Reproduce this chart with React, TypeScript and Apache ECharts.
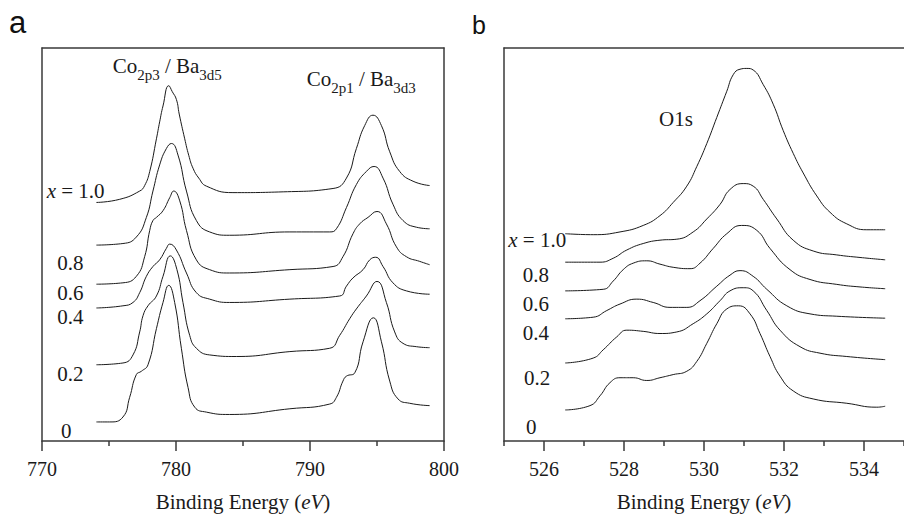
import React, { useEffect, useRef } from "react";
import * as echarts from "echarts";

// ---------- Panel a: Co2p / Ba3d region (x = binding energy eV, y = offset intensity a.u.) ----------
const a10: number[][] = [
  [774.06, 60.7], [775.8, 61.5], [777.29, 63.6], [777.66, 65.0], [778.04, 68.6], [778.54, 76.9],
  [778.78, 81.2], [779.03, 85.25], [779.46, 90.4], [779.72, 88.9], [780.03, 86.9], [780.24, 83.2],
  [780.65, 76.9], [780.95, 72.7], [781.27, 69.4], [781.7, 66.9], [782.27, 64.85], [784.25, 63.2],
  [788.0, 63.4], [791.72, 64.25], [792.72, 66.9], [793.46, 74.4], [794.08, 80.25], [794.7, 82.9],
  [795.33, 80.25], [795.95, 73.6], [796.69, 68.6], [797.69, 66.1], [798.93, 65.0],
];
const a08: number[][] = [
  [774.06, 49.85], [776.04, 50.25], [777.04, 51.9], [777.79, 56.9], [778.28, 63.6], [778.78, 70.25],
  [779.28, 74.4], [779.66, 75.7], [780.15, 72.75], [780.78, 63.6], [781.52, 56.1], [782.51, 53.2],
  [784.0, 52.35], [788.5, 53.2], [791.47, 53.2], [791.97, 54.0], [792.72, 59.4], [793.46, 65.25],
  [794.21, 68.6], [794.78, 69.85], [795.45, 66.9], [796.19, 60.25], [796.94, 56.1], [797.94, 54.4],
  [798.93, 54.0],
];
const a06: number[][] = [
  [774.06, 39.9], [776.04, 40.25], [777.04, 41.9], [777.66, 46.9], [778.04, 53.6], [778.28, 56.1],
  [778.54, 56.9], [779.03, 58.6], [779.53, 61.9], [779.83, 63.6], [780.28, 61.1], [780.78, 53.6],
  [781.52, 46.1], [782.51, 43.6], [784.0, 42.75], [788.5, 43.6], [791.72, 44.4], [792.46, 46.9],
  [793.21, 52.75], [793.71, 55.25], [794.33, 56.9], [795.0, 58.4], [795.7, 55.25], [796.45, 49.4],
  [797.19, 46.9], [798.19, 45.7], [798.93, 44.85],
];
const a04: number[][] = [
  [774.06, 33.85], [776.04, 34.4], [776.79, 35.25], [777.29, 37.75], [777.79, 41.9], [778.28, 44.4],
  [778.78, 46.1], [779.28, 49.0], [779.53, 50.1], [780.03, 48.6], [780.78, 42.75], [781.52, 37.75],
  [782.51, 36.1], [784.0, 35.25], [788.5, 36.1], [792.22, 36.9], [792.72, 39.4], [793.21, 41.5],
  [793.96, 43.6], [794.46, 46.1], [794.9, 46.75], [795.45, 44.4], [796.19, 40.25], [797.19, 38.2],
  [798.93, 37.35],
];
const a02: number[][] = [
  [774.06, 19.4], [776.04, 19.85], [776.79, 21.9], [777.29, 27.75], [777.54, 31.9], [777.91, 34.4],
  [778.54, 36.9], [779.03, 41.9], [779.58, 47.1], [780.07, 43.6], [780.52, 35.25], [781.02, 26.9],
  [781.52, 23.6], [782.51, 21.9], [784.5, 21.5], [788.5, 22.75], [791.47, 23.6], [792.22, 26.9],
  [792.96, 31.1], [793.46, 33.6], [794.21, 36.9], [795.0, 40.6], [795.7, 35.25], [796.32, 27.75],
  [796.94, 24.85], [797.94, 24.0], [798.93, 23.75],
];
const a00: number[][] = [
  [774.06, 4.85], [775.05, 4.85], [776.04, 6.1], [776.54, 11.1], [777.04, 16.9], [777.42, 17.75],
  [777.91, 19.4], [778.54, 28.6], [779.03, 35.25], [779.46, 39.6], [779.9, 35.25], [780.4, 23.6],
  [780.9, 13.6], [781.4, 8.6], [782.27, 7.35], [784.0, 6.75], [788.5, 8.2], [791.47, 9.4],
  [791.97, 11.1], [792.46, 15.25], [792.72, 16.5], [793.34, 17.35], [793.96, 25.25], [794.73, 31.35],
  [795.33, 25.25], [795.95, 15.25], [796.57, 10.7], [797.44, 9.6], [798.93, 9.0],
];

// ---------- Panel b: O1s region ----------
const b10: number[][] = [
  [526.53, 52.75], [527.23, 52.5], [527.9, 53.2], [528.48, 54.85], [528.9, 57.35], [529.23, 60.7],
  [529.57, 64.85], [529.82, 69.85], [530.07, 75.7], [530.32, 82.35], [530.57, 89.0], [530.73, 93.2],
  [530.9, 94.6], [531.07, 94.8], [531.23, 94.4], [531.48, 90.7], [531.73, 85.7], [531.98, 79.0],
  [532.23, 73.2], [532.48, 68.2], [532.82, 62.35], [533.15, 58.2], [533.57, 55.25], [534.07, 53.75],
  [534.53, 53.75],
];
const b08: number[][] = [
  [526.53, 45.5], [527.4, 45.5], [527.73, 46.5], [528.07, 48.6], [528.48, 50.25], [528.9, 51.1],
  [529.32, 51.35], [529.73, 53.2], [530.07, 56.5], [530.4, 60.2], [530.65, 64.0], [530.98, 65.5],
  [531.23, 64.85], [531.48, 61.5], [531.82, 56.5], [532.23, 51.1], [532.73, 48.35], [533.32, 47.35],
  [533.9, 46.7], [534.53, 46.1],
];
const b06: number[][] = [
  [526.53, 38.2], [527.48, 38.6], [527.73, 40.7], [527.98, 43.6], [528.23, 45.25], [528.57, 45.85],
  [528.9, 45.0], [529.23, 44.2], [529.65, 43.85], [529.9, 45.25], [530.23, 49.0], [530.57, 52.75],
  [530.94, 54.85], [531.32, 53.6], [531.65, 49.0], [532.15, 43.6], [532.65, 41.1], [533.32, 39.85],
  [533.9, 39.2], [534.53, 38.75],
];
const b04: number[][] = [
  [526.53, 31.1], [527.23, 31.5], [527.57, 33.2], [527.9, 34.85], [528.32, 36.1], [528.73, 35.25],
  [529.15, 34.0], [529.57, 34.0], [529.9, 35.7], [530.32, 39.4], [530.65, 42.2], [530.9, 43.35],
  [531.23, 41.9], [531.57, 38.6], [532.07, 34.4], [532.65, 32.35], [533.32, 31.75], [534.53, 31.25],
];
const b02: number[][] = [
  [526.53, 19.85], [527.23, 21.1], [527.48, 23.2], [527.82, 26.5], [528.07, 28.2], [528.48, 27.9],
  [528.9, 27.35], [529.32, 27.75], [529.73, 29.85], [530.07, 32.35], [530.4, 35.7], [530.65, 38.2],
  [530.98, 39.0], [531.23, 38.2], [531.57, 33.2], [531.9, 28.2], [532.4, 24.0], [532.9, 22.35],
  [533.57, 21.5], [534.53, 20.7],
];
const b00: number[][] = [
  [526.53, 7.9], [527.15, 9.0], [527.4, 11.5], [527.65, 14.85], [527.9, 16.1], [528.23, 16.1],
  [528.57, 15.4], [528.9, 16.1], [529.23, 16.9], [529.57, 17.75], [529.82, 20.25], [530.07, 24.85],
  [530.32, 29.85], [530.57, 33.6], [530.86, 34.4], [531.15, 32.35], [531.4, 27.35], [531.65, 21.5],
  [531.9, 16.5], [532.23, 12.75], [532.73, 10.7], [533.57, 9.6], [534.32, 8.6], [534.53, 8.85],
];

const panelACurves = [a10, a08, a06, a04, a02, a00];
const panelBCurves = [b10, b08, b06, b04, b02, b00];

// axes / ticks
const aRange = [770, 800];
const aMajorTicks = [770, 780, 790, 800];
const aMinorTicks = [775, 785, 795];
const bRange = [525, 535];
const bMajorTicks = [526, 528, 530, 532, 534];
const bMinorTicks = [525, 527, 529, 531, 533, 535];

// curve labels
const curveLabels = ["{i|x} = 1.0", "0.8", "0.6", "0.4", "0.2", "0"];

const SERIF = '"Liberation Serif", "Times New Roman", serif';
const SANS = '"Liberation Sans", Arial, sans-serif';
const INK = "#1a1a1a";
const FRAME = "#3a3a3a";

export default function App() {
  const ref = useRef<HTMLDivElement>(null);

  useEffect(() => {
    document.body.style.margin = "0";
    if (!ref.current) return;
    const chart = echarts.init(ref.current, undefined, { renderer: "svg" });

    const frameLine = { show: true, lineStyle: { color: FRAME, width: 1.5 } };
    const hidden = {
      axisTick: { show: false },
      axisLabel: { show: false },
      splitLine: { show: false },
    };
    const nameRich = {
      i: { fontStyle: "italic", fontFamily: SERIF, fontSize: 21, color: INK },
    };

    const mainX = (gridIndex: number, range: number[], interval: number, ticks: number[]) => ({
      type: "value",
      gridIndex,
      position: "bottom",
      min: range[0],
      max: range[1],
      interval,
      axisLine: { ...frameLine, onZero: false },
      axisTick: { show: true, inside: false, length: 10, customValues: ticks, lineStyle: { color: FRAME, width: 1.5 } },
      axisLabel: { show: true, customValues: ticks, margin: 18, fontFamily: SERIF, fontSize: 20, color: INK },
      splitLine: { show: false },
      name: "Binding Energy ({i|eV})",
      nameLocation: "middle",
      nameGap: 50,
      nameTextStyle: { fontFamily: SERIF, fontSize: 21, color: INK, rich: nameRich },
    });
    const minorX = (gridIndex: number, range: number[], interval: number, ticks: number[]) => ({
      type: "value",
      gridIndex,
      position: "bottom",
      min: range[0],
      max: range[1],
      interval,
      axisLine: { show: false, onZero: false },
      axisTick: { show: true, inside: false, length: 5, customValues: ticks, lineStyle: { color: FRAME, width: 1.5 } },
      axisLabel: { show: false },
      splitLine: { show: false },
    });
    const topX = (gridIndex: number, range: number[]) => ({
      type: "value",
      gridIndex,
      position: "top",
      min: range[0],
      max: range[1],
      axisLine: { ...frameLine, onZero: false },
      ...hidden,
    });
    const sideY = (gridIndex: number, position: string) => ({
      type: "value",
      gridIndex,
      position,
      min: 0,
      max: 100,
      axisLine: { ...frameLine, onZero: false },
      ...hidden,
    });

    const lineSeries = (data: number[][], xAxisIndex: number, yAxisIndex: number) => ({
      type: "line",
      data,
      xAxisIndex,
      yAxisIndex,
      showSymbol: false,
      symbol: "none",
      smooth: 0.5,
      lineStyle: { color: INK, width: 1 },
      silent: true,
    });

    const labelStyle = (text: string, x: number, y: number) => ({
      type: "text",
      style: {
        text,
        x,
        y,
        fontFamily: SERIF,
        fontSize: 21,
        fill: INK,
        align: "left",
        verticalAlign: "middle",
        rich: {
          i: { fontStyle: "italic", fontFamily: SERIF, fontSize: 21, fill: INK },
        },
      },
    });

    const aLabelPos = [
      [46.7, 190.5], [57.3, 263.3], [57.3, 293], [57.3, 317], [57.3, 373.7], [61, 430.7],
    ];
    const bLabelPos = [
      [508.3, 240], [522.7, 274.5], [522.7, 303.8], [522.7, 333.3], [524, 377.8], [526, 427],
    ];

    const subRich = {
      m: { fontFamily: SERIF, fontSize: 21, lineHeight: 24, verticalAlign: "top", fill: INK },
      s: { fontFamily: SERIF, fontSize: 15, lineHeight: 16, verticalAlign: "top", padding: [12, 0, 0, 0], fill: INK },
    };

    const graphic: any[] = [
      { type: "text", style: { text: "a", x: 9, y: 22.3, fontFamily: SANS, fontSize: 31, fill: "#111", verticalAlign: "middle" } },
      { type: "text", style: { text: "b", x: 472, y: 24.5, fontFamily: SANS, fontSize: 25, fill: "#111", verticalAlign: "middle" } },
      { type: "text", style: { text: "{m|Co}{s|2p3}{m| / Ba}{s|3d5}", x: 112.7, y: 55.6, verticalAlign: "top", align: "left", rich: subRich } },
      { type: "text", style: { text: "{m|Co}{s|2p1}{m| / Ba}{s|3d3}", x: 306.7, y: 68.8, verticalAlign: "top", align: "left", rich: subRich } },
      { type: "text", style: { text: "O1s", x: 659, y: 119.2, fontFamily: SERIF, fontSize: 21, fill: INK, verticalAlign: "middle" } },
      ...curveLabels.map((t, i) => labelStyle(t, aLabelPos[i][0], aLabelPos[i][1])),
      ...curveLabels.map((t, i) => labelStyle(t, bLabelPos[i][0], bLabelPos[i][1])),
    ];

    const option: any = {
      animation: false,
      backgroundColor: "#ffffff",
      grid: [
        { left: 42, top: 48, width: 402, height: 400, containLabel: false },
        { left: 504, top: 48, width: 400, height: 400, containLabel: false },
      ],
      xAxis: [
        mainX(0, aRange, 10, aMajorTicks),
        minorX(0, aRange, 5, aMinorTicks),
        topX(0, aRange),
        mainX(1, bRange, 1, bMajorTicks),
        minorX(1, bRange, 1, bMinorTicks),
        topX(1, bRange),
      ],
      yAxis: [sideY(0, "left"), sideY(0, "right"), sideY(1, "left")],
      series: [
        ...panelACurves.map((d) => lineSeries(d, 0, 0)),
        ...panelBCurves.map((d) => lineSeries(d, 3, 2)),
      ],
      graphic,
    };

    chart.setOption(option);
    return () => chart.dispose();
  }, []);

  return <div ref={ref} style={{ width: 904, height: 517, background: "#fff" }} />;
}
